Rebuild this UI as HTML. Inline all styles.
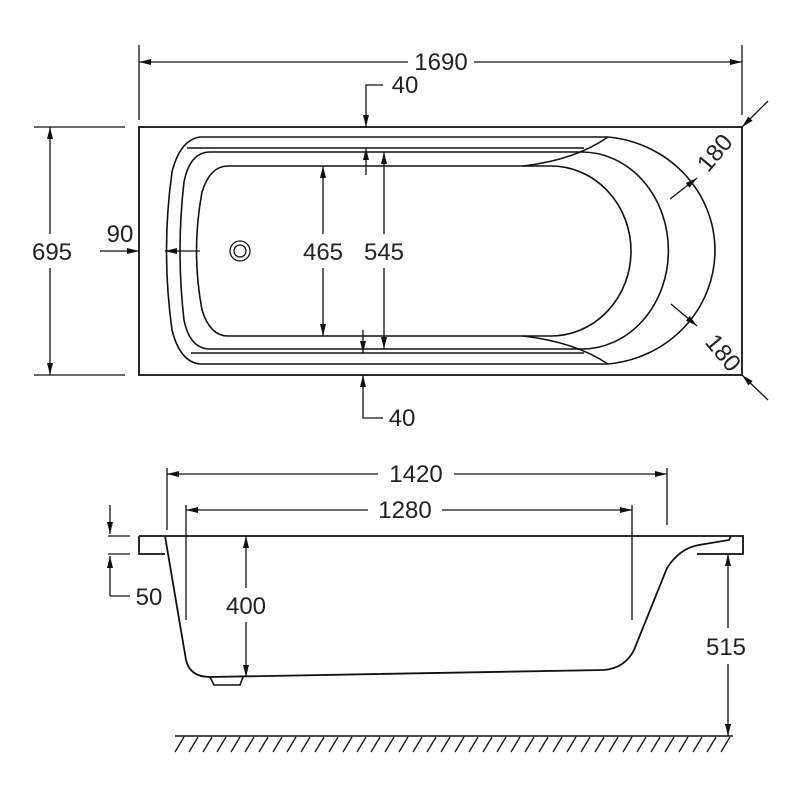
<!DOCTYPE html>
<html><head><meta charset="utf-8"><style>
html,body{margin:0;padding:0;background:#fff;}
svg{display:block;}
text{font-family:"Liberation Sans",sans-serif;font-size:24px;fill:#222;}
</style></head><body>
<svg width="800" height="800" viewBox="0 0 800 800" xmlns="http://www.w3.org/2000/svg">
<defs>
<marker id="a" viewBox="0 0 12 6" refX="12" refY="3" markerWidth="12" markerHeight="6" orient="auto" markerUnits="userSpaceOnUse"><path d="M0,0 L12,3 L0,6 Z" fill="#111"/></marker>
</defs>
<g fill="none" stroke="#111" stroke-width="1.3">
<rect x="139" y="127" width="603" height="248" stroke-width="1.8"/>
<path d="M200,137 L608,137 A118,114 0 0 1 608,364 L200,364 Q180,362 172,330 Q161,251 172,172 Q180,140 200,137 Z" stroke-width="1.6"/>
<path d="M187,148 L584,148 M191,353 L584,353" stroke-width="1.6"/>
<path d="M210,152 L582,152 A86,98 0 0 1 582,349 L210,349 Q190,349 184,320 Q176,251 184,182 Q190,152 210,152 Z" stroke-width="1.6"/>
<path d="M228,166 L551,166 A80,85 0 0 1 551,336 L228,336 Q210,336 202,310 Q191,251 202,192 Q210,166 228,166 Z" stroke-width="1.6"/>
<path d="M523,166 Q575,160 608,137 M523,336 Q575,342 608,364" stroke-width="1.6"/>
<circle cx="240" cy="251" r="10"/><circle cx="240" cy="251" r="6"/>
<path d="M139,45 L139,120 M742,45 L742,115"/>
<path d="M408,62 L139,62" marker-end="url(#a)"/>
<path d="M474,62 L742,62" marker-end="url(#a)"/>
<path d="M34,127 L125,127 M34,375 L125,375"/>
<path d="M50,234 L50,127" marker-end="url(#a)"/>
<path d="M50,268 L50,375" marker-end="url(#a)"/>
<path d="M100,251 L139,251" marker-end="url(#a)"/>
<path d="M200,251 L165,251" marker-end="url(#a)"/>
<path d="M383,85 L366,85 L366,127" marker-end="url(#a)"/>
<path d="M366,175 L366,148" marker-end="url(#a)"/>
<path d="M383,418 L363,418 L363,375" marker-end="url(#a)"/>
<path d="M363,330 L363,353" marker-end="url(#a)"/>
<path d="M323,234 L323,166" marker-end="url(#a)"/>
<path d="M323,268 L323,336" marker-end="url(#a)"/>
<path d="M384,234 L384,152" marker-end="url(#a)"/>
<path d="M384,268 L384,349" marker-end="url(#a)"/>
<path d="M768,101 L742,127" marker-end="url(#a)"/>
<path d="M670,199 L697,178" marker-end="url(#a)"/>
<path d="M768,400 L742,375" marker-end="url(#a)"/>
<path d="M671,304 L697,326" marker-end="url(#a)"/>
<path d="M139,536 L743,536 L743,554 L697,554" stroke-width="1.8"/>
<path d="M139,536 L139,554 L165,554" stroke-width="1.8"/>
<path d="M165,536 L186,660 Q190,677 210,677 L604,670 Q625,668 634,650 L667,568 Q680,548 699,545 L729,540 L731,536" stroke-width="1.8"/>
<path d="M210,677 L214,685 L240,685 L243,677" stroke-width="1.6"/>
<path d="M167,468 L167,530 M667,468 L667,525"/>
<path d="M378,474 L167,474" marker-end="url(#a)"/>
<path d="M454,474 L667,474" marker-end="url(#a)"/>
<path d="M186,505 L186,620 M632,505 L632,620"/>
<path d="M368,510 L186,510" marker-end="url(#a)"/>
<path d="M442,510 L632,510" marker-end="url(#a)"/>
<path d="M246,588 L246,536" marker-end="url(#a)"/>
<path d="M246,622 L246,677" marker-end="url(#a)"/>
<path d="M728,628 L728,554" marker-end="url(#a)"/>
<path d="M728,664 L728,736" marker-end="url(#a)"/>
<path d="M108,536 L130,536 M108,554 L130,554"/>
<path d="M110,505 L110,534" marker-end="url(#a)"/>
<path d="M110,596 L110,556" marker-end="url(#a)"/>
<path d="M110,596 L130,596"/>
<path d="M175,736 L733,736" stroke-width="1.6"/>
<path d="M184,737 L175,752 M198,737 L189,752 M212,737 L203,752 M226,737 L217,752 M240,737 L231,752 M254,737 L245,752 M268,737 L259,752 M282,737 L273,752 M296,737 L287,752 M310,737 L301,752 M324,737 L315,752 M338,737 L329,752 M352,737 L343,752 M366,737 L357,752 M380,737 L371,752 M394,737 L385,752 M408,737 L399,752 M422,737 L413,752 M436,737 L427,752 M450,737 L441,752 M464,737 L455,752 M478,737 L469,752 M492,737 L483,752 M506,737 L497,752 M520,737 L511,752 M534,737 L525,752 M548,737 L539,752 M562,737 L553,752 M576,737 L567,752 M590,737 L581,752 M604,737 L595,752 M618,737 L609,752 M632,737 L623,752 M646,737 L637,752 M660,737 L651,752 M674,737 L665,752 M688,737 L679,752 M702,737 L693,752 M716,737 L707,752 M730,737 L721,752"/>
</g>
<g text-anchor="middle">
<text x="441" y="70">1690</text>
<text x="52" y="260">695</text>
<text x="120" y="242">90</text>
<text x="405" y="93">40</text>
<text x="402" y="426">40</text>
<text x="323" y="260">465</text>
<text x="384" y="260">545</text>
<text x="0" y="0" transform="translate(721,158) rotate(-50)">180</text>
<text x="0" y="0" transform="translate(717,358) rotate(50)">180</text>
<text x="416" y="482">1420</text>
<text x="405" y="518">1280</text>
<text x="246" y="614">400</text>
<text x="726" y="655">515</text>
<text x="149" y="605">50</text>
</g>
</svg>
</body></html>
